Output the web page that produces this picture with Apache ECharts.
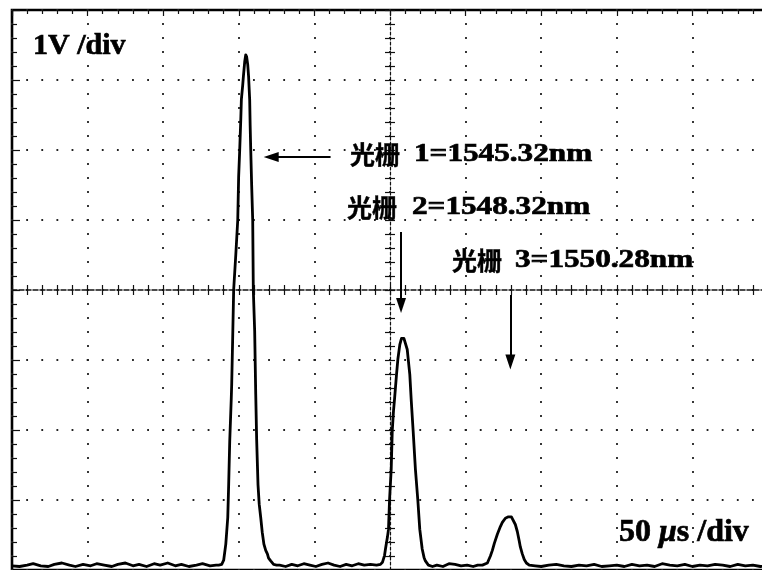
<!DOCTYPE html>
<html><head><meta charset="utf-8">
<script src="https://cdn.jsdelivr.net/npm/echarts/dist/echarts.min.js"></script>
<style>html,body{margin:0;padding:0;background:#fff}#c{width:762px;height:570px}</style>
</head><body><div id="c"></div>
<script>
// time in microseconds (50 us/div), voltage in volts (1 V/div)
const noiseAT = [-250,-245,-240,-236,-231,-226,-222,-217,-212,-208,-203,-198,-194,-189,-184,-180,-175,-170,-166,-161,-156,-152,-147,-142,-138,-133,-128,-124,-119,-115];
const noiseAV = [-3.94,-3.95,-3.93,-3.91,-3.94,-3.95,-3.92,-3.90,-3.93,-3.95,-3.92,-3.94,-3.91,-3.93,-3.95,-3.92,-3.90,-3.94,-3.92,-3.95,-3.91,-3.93,-3.90,-3.94,-3.92,-3.95,-3.93,-3.91,-3.94,-3.93];
const peak1T = [-113.3,-111.3,-110.0,-108.6,-107.3,-106.7,-106.0,-105.0,-104.7,-104.0,-103.4,-102.0,-100.7,-100.1,-99.4,-98.7,-98.3,-97.4,-97.0,-96.1,-95.4,-94.8,-94.1,-93.5,-92.8,-92.5,-92.1,-91.5,-90.8,-90.4,-89.5,-88.8,-88.2,-87.3,-86.5,-85.5,-84.5,-83.4,-82.2,-81.1,-80.3,-78.9,-77.0,-75.0];
const peak1V = [-3.93,-3.92,-3.86,-3.63,-3.25,-2.78,-2.16,-1.56,-1.35,-0.64,0.00,0.50,1.00,1.62,2.00,2.43,2.72,2.93,3.04,3.26,3.36,3.33,3.22,3.04,2.72,2.36,2.00,1.50,1.00,0.00,-0.59,-1.49,-2.13,-2.78,-3.06,-3.25,-3.46,-3.63,-3.72,-3.77,-3.83,-3.87,-3.92,-3.93];
const noiseBT = [-73,-69,-65,-61,-57,-53,-49,-45,-41,-37,-33,-29,-25,-21,-17,-13];
const noiseBV = [-3.93,-3.95,-3.92,-3.94,-3.91,-3.93,-3.95,-3.92,-3.90,-3.93,-3.95,-3.92,-3.94,-3.91,-3.93,-3.92];
const peak2T = [-8.9,-6.3,-5.0,-3.6,-3.0,-1.7,-1.0,-0.3,0.8,1.5,2.3,3.0,4.3,5.2,6.5,7.6,8.5,9.2,9.8,11.4,12.2,13.1,14.0,15.3,16.8,18.4,19.7,21.3,22.5,23.4,25.4,28.1];
const peak2V = [-3.93,-3.92,-3.89,-3.79,-3.70,-3.53,-3.42,-3.00,-2.56,-2.01,-1.73,-1.56,-1.21,-0.99,-0.78,-0.69,-0.68,-0.69,-0.71,-0.85,-1.02,-1.21,-1.56,-2.01,-2.56,-3.00,-3.42,-3.70,-3.82,-3.87,-3.93,-3.95];
const noiseCT = [31,35,39,43,47,51,55,58];
const noiseCV = [-3.93,-3.95,-3.91,-3.92,-3.94,-3.93,-3.95,-3.93];
const peak3T = [61.1,64.4,66.4,67.7,69.0,71.0,73.0,74.3,76.3,78.3,80.3,81.6,82.9,84.2,85.5,86.2,87.5,88.8,90.2,92.1];
const peak3V = [-3.93,-3.90,-3.80,-3.72,-3.62,-3.49,-3.38,-3.32,-3.26,-3.24,-3.24,-3.26,-3.35,-3.45,-3.59,-3.67,-3.77,-3.85,-3.90,-3.93];
const noiseDT = [96,100,105,110,115,120,125,130,135,140,145,150,155,160,165,170,175,180,185,190,195,200,205,210,215,220,225,230,235,240,245,250];
const noiseDV = [-3.94,-3.95,-3.93,-3.92,-3.94,-3.95,-3.93,-3.94,-3.92,-3.95,-3.94,-3.93,-3.95,-3.92,-3.94,-3.93,-3.95,-3.91,-3.93,-3.94,-3.92,-3.95,-3.93,-3.94,-3.92,-3.93,-3.95,-3.92,-3.94,-3.93,-3.95,-3.94];

// annotation arrows (data coordinates: start and arrowhead centre)
const arrowStart = [[-39.3, 1.90], [7.3, 0.83], [79.6, -0.07]];
const arrowEnd   = [[-78.6, 1.90], [7.3, -0.22], [79.6, -1.03]];

const gratingNames = ['光栅', '光栅', '光栅'];
const gratingValues = ['1=1545.32nm', '2=1548.32nm', '3=1550.28nm'];
const voltLabel = '1V /div';
const timeLabel = ['50 ', 'μ', 's /div'];

function zip(t, v) { return t.map((x, i) => [x, v[i]]); }
const trace = [].concat(
  zip(noiseAT, noiseAV), zip(peak1T, peak1V), zip(noiseBT, noiseBV),
  zip(peak2T, peak2V), zip(noiseCT, noiseCV), zip(peak3T, peak3V), zip(noiseDT, noiseDV)
);

const chart = echarts.init(document.getElementById('c'), null, {renderer: 'canvas'});
const ink = '#111';
const tickStyle = {color: ink, width: 1.2};
function xAx(extra) {
  return Object.assign({type: 'value', min: -250, max: 250, interval: 50, axisLabel: {show: false}, splitLine: {show: false}}, extra);
}
function yAx(extra) {
  return Object.assign({type: 'value', min: -4, max: 4, interval: 1, axisLabel: {show: false}, splitLine: {show: false}}, extra);
}
const serif = '"Liberation Serif", "Times New Roman", "Noto Sans CJK SC", serif';
const cjk = '"Noto Sans CJK SC", sans-serif';
const heavy = {stroke: '#000', lineWidth: 0.7};

const graphics = [];
graphics.push({type: 'text', x: 33, y: 46, z: 10, style: Object.assign({text: voltLabel, font: 'bold 30px ' + serif, fill: '#000', align: 'left', verticalAlign: 'middle'}, heavy)});
const labelPos = [[350, 414, 154], [347, 412, 207], [452, 515, 260]];
gratingNames.forEach((nm, i) => {
  const p = labelPos[i];
  graphics.push({type: 'text', x: p[0], y: p[2], z: 10, style: {text: nm, font: 'bold 25px ' + cjk, fill: '#000', align: 'left', verticalAlign: 'middle', stroke: '#000', lineWidth: 0.4}});
  graphics.push({type: 'text', x: p[1], y: p[2], z: 10, scaleX: 1.2, style: Object.assign({text: gratingValues[i], font: 'bold 26px ' + serif, fill: '#000', align: 'left', verticalAlign: 'middle'}, heavy)});
});
graphics.push({type: 'text', x: 619, y: 533, z: 10, style: {
  text: '{a|' + timeLabel[0] + '}{m|' + timeLabel[1] + '}{a|' + timeLabel[2] + '}',
  align: 'left', verticalAlign: 'middle',
  rich: {a: {font: 'bold 32px ' + serif, fill: '#000', stroke: '#000', lineWidth: 0.7}, m: {font: 'italic bold 32px ' + serif, fill: '#000', stroke: '#000', lineWidth: 0.7}}
}});

chart.setOption({
  animation: false,
  backgroundColor: '#fff',
  grid: {left: 12, top: 10, width: 756, height: 560, show: true, borderColor: '#000', borderWidth: 2.6, containLabel: false, outerBoundsMode: 'none'},
  xAxis: [
    xAx({position: 'bottom',
      axisLine: {show: true, onZero: true, onZeroAxisIndex: 0, lineStyle: {color: ink, width: 1.5, type: [5, 2]}},
      axisTick: {show: true, inside: true, length: 5, lineStyle: tickStyle},
      minorTick: {show: true, splitNumber: 5, length: 5, lineStyle: tickStyle},
      splitLine: {show: true, lineStyle: {color: '#222', width: 1.8, type: [1.8, 12.2], dashOffset: 0.9}}}),
    xAx({position: 'top',
      axisLine: {show: false, onZero: true, onZeroAxisIndex: 0},
      axisTick: {show: true, inside: true, length: 5, lineStyle: tickStyle},
      minorTick: {show: true, splitNumber: 5, length: 5, lineStyle: tickStyle}}),
    xAx({position: 'top',
      axisLine: {show: false, onZero: false},
      axisTick: {show: true, inside: true, length: 6, lineStyle: tickStyle},
      minorTick: {show: true, splitNumber: 5, length: 4, lineStyle: tickStyle}})
  ],
  yAxis: [
    yAx({position: 'left',
      axisLine: {show: true, onZero: true, onZeroAxisIndex: 0, lineStyle: {color: ink, width: 1.2, type: [3, 2]}},
      axisTick: {show: true, inside: true, length: 5, lineStyle: tickStyle},
      minorTick: {show: true, splitNumber: 5, length: 5, lineStyle: tickStyle},
      splitLine: {show: true, lineStyle: {color: '#222', width: 1.8, type: [1.8, 13.32], dashOffset: 0.9}}}),
    yAx({position: 'right',
      axisLine: {show: false, onZero: true, onZeroAxisIndex: 0},
      axisTick: {show: true, inside: true, length: 5, lineStyle: tickStyle},
      minorTick: {show: true, splitNumber: 5, length: 5, lineStyle: tickStyle}}),
    yAx({position: 'left',
      axisLine: {show: false, onZero: false},
      axisTick: {show: true, inside: true, length: 8, lineStyle: tickStyle},
      minorTick: {show: true, splitNumber: 5, length: 5, lineStyle: tickStyle}})
  ],
  series: [{
    type: 'line', xAxisIndex: 0, yAxisIndex: 0, data: trace,
    showSymbol: false, symbol: 'none', smooth: false,
    lineStyle: {color: '#000', width: 2.8, join: 'round'},
    z: 5, silent: true,
    markLine: {
      silent: true, animation: false,
      symbol: ['none', 'triangle'], symbolSize: [10, 15],
      label: {show: false},
      lineStyle: {color: '#000', width: 2, type: 'solid'},
      itemStyle: {color: '#000'},
      data: arrowStart.map((s, i) => [{coord: s}, {coord: arrowEnd[i]}])
    }
  }],
  graphic: graphics
});
</script></body></html>
